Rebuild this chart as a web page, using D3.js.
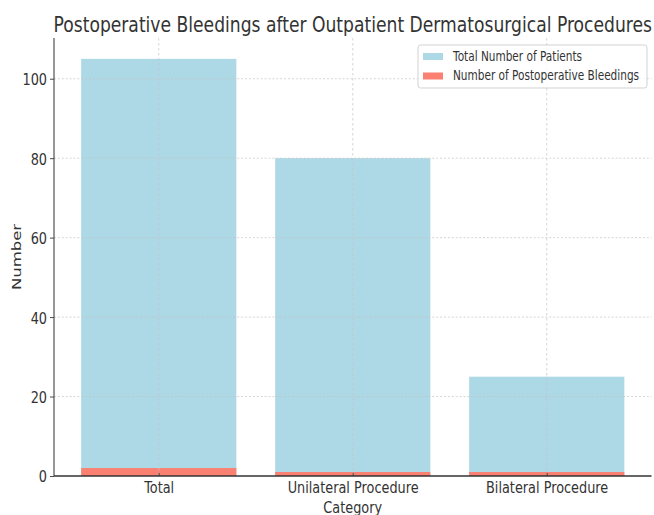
<!DOCTYPE html>
<html>
<head>
<meta charset="utf-8">
<script src="https://d3js.org/d3.v7.min.js"></script>
<style>
  body { margin: 0; background: #fff; }
  text { font-family: "DejaVu Sans", sans-serif; fill: #333; }
  .grid line { stroke: #c4c4c4; stroke-dasharray: 2.5,2.5; stroke-width: 0.8; }
</style>
</head>
<body>
<script>
var categories = ["Total", "Unilateral Procedure", "Bilateral Procedure"];
var totalPatients = [105, 80, 25];
var bleedings = [2, 1, 1];
var yTicks = [0, 20, 40, 60, 80, 100];
var seriesNames = ["Total Number of Patients", "Number of Postoperative Bleedings"];
var seriesColors = ["#ADD8E6", "#FA8072"];

// the picture is squeezed horizontally, so draw wide and squash
var SX = 0.78;
var width = 654, height = 515;
var W = width / SX;

var svg = d3.select("body").append("svg")
  .attr("width", width)
  .attr("height", height)
  .attr("viewBox", "0 0 " + W + " " + height)
  .attr("preserveAspectRatio", "none");

var pLeft = 54 / SX, pRight = 651.5 / SX, pTop = 38, pBottom = 476;

// matplotlib style: bars at integer positions, width 0.8, 5% margin
var x = d3.scaleLinear().domain([-0.54, 2.54]).range([pLeft, pRight]);
var y = d3.scaleLinear().domain([0, 110.25]).range([pBottom, pTop]);
var bw = x(0.8) - x(0);

var g = svg.append("g");

g.selectAll(".bar-total").data(totalPatients).enter().append("rect")
  .attr("x", function(d, i) { return x(i - 0.4); })
  .attr("y", function(d) { return y(d); })
  .attr("width", bw)
  .attr("height", function(d) { return y(0) - y(d); })
  .attr("fill", seriesColors[0]);

g.selectAll(".bar-bleed").data(bleedings).enter().append("rect")
  .attr("x", function(d, i) { return x(i - 0.4); })
  .attr("y", function(d) { return y(d); })
  .attr("width", bw)
  .attr("height", function(d) { return y(0) - y(d); })
  .attr("fill", seriesColors[1]);

// grid on top of bars
var grid = g.append("g").attr("class", "grid");
grid.selectAll(".hg").data(yTicks.slice(1)).enter().append("line")
  .attr("x1", pLeft).attr("x2", pRight)
  .attr("y1", function(d) { return y(d); })
  .attr("y2", function(d) { return y(d); });
grid.selectAll(".vg").data(categories).enter().append("line")
  .attr("x1", function(d, i) { return x(i); })
  .attr("x2", function(d, i) { return x(i); })
  .attr("y1", pTop).attr("y2", pBottom);

// axes
var yAxis = d3.axisLeft(y).tickValues(yTicks).tickSize(4 / SX).tickPadding(3 / SX);
var ya = g.append("g").attr("transform", "translate(" + pLeft + ",0)").call(yAxis);
ya.select(".domain").attr("stroke", "#333").attr("stroke-width", 1.3).attr("d", "M0," + pTop + "V" + pBottom);
ya.selectAll(".tick line").attr("stroke", "#333");
ya.selectAll(".tick text").style("font-size", "16.5px").attr("fill", "#333").attr("dy", "0.36em");

var xAxis = d3.axisBottom(x).tickValues([0, 1, 2])
  .tickFormat(function(d) { return categories[d]; }).tickSize(-3).tickPadding(5);
var xa = g.append("g").attr("transform", "translate(0," + pBottom + ")").call(xAxis);
xa.select(".domain").attr("stroke", "#333").attr("stroke-width", 1.3).attr("d", "M" + pLeft + ",0H" + pRight);
xa.selectAll(".tick line").attr("stroke", "#333");
xa.selectAll(".tick text").style("font-size", "16.5px").attr("fill", "#333");

// labels
svg.append("text")
  .attr("x", (pLeft + pRight) / 2).attr("y", 32)
  .attr("text-anchor", "middle")
  .style("font-size", "22px")
  .text("Postoperative Bleedings after Outpatient Dermatosurgical Procedures");

svg.append("text")
  .attr("x", (pLeft + pRight) / 2).attr("y", 513)
  .attr("text-anchor", "middle")
  .style("font-size", "16.5px")
  .text("Category");

svg.append("text")
  .attr("transform", "translate(" + (21 / SX) + "," + ((pTop + pBottom) / 2) + ") rotate(-90)")
  .attr("text-anchor", "middle")
  .style("font-size", "16.5px")
  .text("Number");

// legend
var lg = svg.append("g").attr("transform", "translate(" + (418 / SX) + ",45)");
lg.append("rect")
  .attr("width", (647 - 418) / SX).attr("height", 43)
  .attr("rx", 3).attr("fill", "#fff").attr("fill-opacity", 0.8)
  .attr("stroke", "#ccc");
var items = lg.selectAll(".item").data(seriesNames).enter().append("g")
  .attr("transform", function(d, i) { return "translate(0," + (i * 19.5) + ")"; });
items.append("rect")
  .attr("x", 5 / SX).attr("y", 8)
  .attr("width", 20 / SX).attr("height", 7)
  .attr("fill", function(d, i) { return seriesColors[i]; });
items.append("text")
  .attr("x", 35 / SX).attr("y", 16)
  .style("font-size", "13.5px")
  .text(function(d) { return d; });
</script>
</body>
</html>
